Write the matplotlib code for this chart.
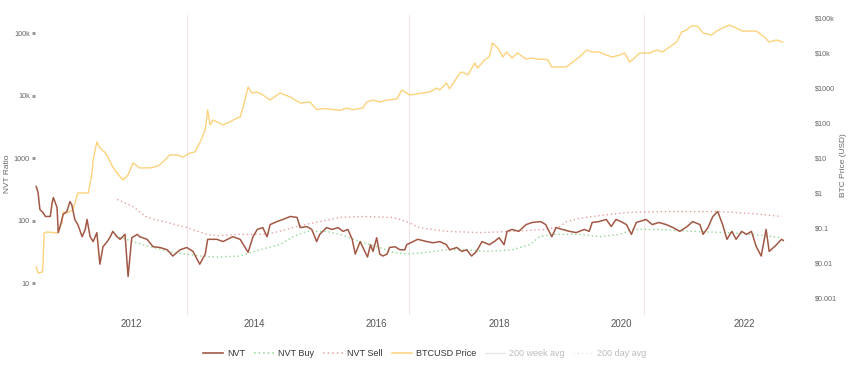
import matplotlib.pyplot as plt
from matplotlib.lines import Line2D

plt.rcParams['font.family'] = ['Liberation Sans', 'DejaVu Sans']

# NVT ratio (left axis), decimal years
nvt_t = [2010.44, 2010.47, 2010.50, 2010.55, 2010.59, 2010.67, 2010.70, 2010.72, 2010.78, 2010.80,
         2010.83, 2010.88, 2010.94, 2010.99, 2011.02, 2011.07, 2011.12, 2011.19, 2011.24, 2011.27,
         2011.32, 2011.37, 2011.43, 2011.48, 2011.53, 2011.60, 2011.65, 2011.69, 2011.76, 2011.81,
         2011.89, 2011.94, 2012.00, 2012.09, 2012.13, 2012.25, 2012.35, 2012.46, 2012.58, 2012.67,
         2012.79, 2012.90, 2013.00, 2013.11, 2013.20, 2013.24, 2013.39, 2013.49, 2013.65, 2013.77,
         2013.90, 2013.98, 2014.05, 2014.14, 2014.21, 2014.26, 2014.37, 2014.47, 2014.59, 2014.70,
         2014.75, 2014.86, 2014.94, 2015.02, 2015.07, 2015.18, 2015.27, 2015.37, 2015.45, 2015.53,
         2015.60, 2015.65, 2015.73, 2015.85, 2015.90, 2015.94, 2016.00, 2016.05, 2016.10, 2016.17,
         2016.21, 2016.30, 2016.38, 2016.46, 2016.49, 2016.67, 2016.82, 2016.92, 2017.03, 2017.14,
         2017.19, 2017.31, 2017.39, 2017.47, 2017.55, 2017.63, 2017.72, 2017.84, 2017.92, 2018.00,
         2018.08, 2018.13, 2018.21, 2018.32, 2018.44, 2018.54, 2018.68, 2018.76, 2018.86, 2018.93,
         2019.03, 2019.15, 2019.26, 2019.39, 2019.47, 2019.52, 2019.63, 2019.75, 2019.83, 2019.91,
         2019.99, 2020.08, 2020.16, 2020.24, 2020.40, 2020.50, 2020.61, 2020.73, 2020.84, 2020.95,
         2021.07, 2021.16, 2021.28, 2021.33, 2021.41, 2021.49, 2021.57, 2021.65, 2021.72, 2021.80,
         2021.87, 2021.96, 2022.04, 2022.12, 2022.20, 2022.28, 2022.36, 2022.41, 2022.53, 2022.61,
         2022.64]
nvt = [350, 281, 150, 134, 116, 116, 194, 233, 161, 64,
       80, 125, 139, 201, 180, 104, 86, 55, 72, 104,
       55, 46, 64, 20, 38, 46, 55, 67, 55, 50,
       60, 12.7, 53, 60, 55, 50, 38, 37, 34, 27,
       34, 37, 32, 20, 29, 50, 50, 46, 55, 50,
       31, 55, 72, 77, 55, 86, 96, 104, 116, 112,
       77, 80, 72, 46, 60, 77, 72, 77, 67, 72,
       50, 29, 46, 26, 41, 32, 53, 29, 27, 29,
       37, 38, 34, 34, 41, 50, 46, 44, 46, 41,
       34, 37, 32, 34, 27, 32, 46, 41, 46, 53,
       41, 67, 72, 67, 86, 93, 96, 86, 55, 77,
       72, 67, 64, 72, 67, 93, 96, 104, 80, 104,
       96, 86, 60, 93, 104, 86, 93, 86, 77, 67,
       80, 96, 86, 60, 77, 116, 139, 86, 50, 67,
       50, 67, 60, 67, 38, 27, 72, 32, 41, 50,
       48]

buy_t = [2011.73, 2012.18, 2012.67, 2013.11, 2013.39, 2013.77, 2014.09, 2014.42, 2014.63, 2014.86,
         2015.18, 2015.40, 2015.73, 2016.05, 2016.26, 2016.49, 2016.82, 2017.14, 2017.47, 2017.80,
         2018.21, 2018.50, 2018.66, 2018.86, 2019.31, 2019.64, 2019.97, 2020.18, 2020.61, 2021.16,
         2021.72, 2022.14, 2022.61]
buy = [57, 41, 31, 27, 26, 27, 34, 41, 55, 67,
       67, 60, 46, 37, 31, 29, 31, 34, 34, 32,
       34, 41, 55, 60, 60, 55, 60, 72, 72, 67,
       64, 60, 53]

sell_t = [2011.76, 2012.02, 2012.25, 2012.58, 2012.90, 2013.23, 2013.39, 2013.77, 2014.21, 2014.53,
          2014.75, 2015.07, 2015.40, 2015.73, 2016.26, 2016.49, 2016.70, 2017.14, 2017.68, 2018.21,
          2018.77, 2018.99, 2019.10, 2019.31, 2019.52, 2020.08, 2020.61, 2021.16, 2021.60, 2022.14,
          2022.61]
sell = [217, 167, 112, 93, 77, 60, 57, 60, 60, 72,
        83, 96, 112, 116, 112, 96, 77, 67, 64, 67,
        72, 80, 96, 108, 116, 134, 139, 139, 139, 129,
        116]

# BTC price in USD (right axis)
btc_t = [2010.44, 2010.47, 2010.54, 2010.55, 2010.57, 2010.62, 2010.78, 2010.80, 2010.86, 2010.88,
         2010.94, 2011.04, 2011.12, 2011.29, 2011.35, 2011.37, 2011.43, 2011.48, 2011.56, 2011.61,
         2011.69, 2011.81, 2011.86, 2011.94, 2012.02, 2012.13, 2012.30, 2012.43, 2012.51, 2012.62,
         2012.74, 2012.84, 2012.95, 2013.03, 2013.11, 2013.20, 2013.24, 2013.28, 2013.33, 2013.49,
         2013.60, 2013.72, 2013.77, 2013.82, 2013.90, 2013.96, 2014.05, 2014.14, 2014.26, 2014.42,
         2014.59, 2014.75, 2014.91, 2015.02, 2015.12, 2015.23, 2015.40, 2015.51, 2015.61, 2015.77,
         2015.84, 2015.94, 2016.05, 2016.18, 2016.33, 2016.41, 2016.54, 2016.75, 2016.87, 2016.98,
         2017.03, 2017.14, 2017.19, 2017.36, 2017.40, 2017.49, 2017.60, 2017.65, 2017.76, 2017.84,
         2017.89, 2017.98, 2018.06, 2018.12, 2018.21, 2018.30, 2018.44, 2018.53, 2018.61, 2018.79,
         2018.86, 2018.99, 2019.10, 2019.20, 2019.31, 2019.43, 2019.52, 2019.63, 2019.75, 2019.85,
         2019.97, 2020.05, 2020.13, 2020.21, 2020.29, 2020.46, 2020.57, 2020.67, 2020.78, 2020.90,
         2020.98, 2021.06, 2021.14, 2021.24, 2021.33, 2021.47, 2021.55, 2021.65, 2021.76, 2021.87,
         2021.97, 2022.09, 2022.20, 2022.33, 2022.41, 2022.53, 2022.63]
btc = [0.0077, 0.0052, 0.0055, 0.0088, 0.072, 0.077, 0.072, 0.088, 0.139, 0.29,
       0.27, 0.33, 1.0, 1.0, 3.7, 8.8, 28.7, 19.3, 14.8, 10.7,
       5.5, 2.9, 2.35, 3.3, 7.2, 5.2, 5.2, 5.9, 7.7, 12.2,
       12.2, 10.7, 13.9, 14.8, 26.8, 63, 235, 88, 122, 88,
       107, 139, 148, 287, 1068, 720, 769, 631, 454, 720,
       553, 373, 398, 240, 260, 250, 230, 268, 240, 268,
       398, 454, 398, 454, 485, 877, 630, 720, 770, 1000,
       877, 1389, 950, 2680, 2865, 2350, 5180, 3730, 6310, 7690,
       19300, 13900, 7690, 10680, 7200, 10000, 6740, 7200, 6740, 6500,
       3980, 3980, 3980, 5530, 7690, 12200, 10680, 10680, 8770, 7690,
       8770, 10000, 5530, 7200, 10000, 10000, 12200, 10680, 14800, 20600,
       39800, 45400, 59100, 59100, 37300, 32700, 42500, 51800, 63100, 51800,
       42500, 42500, 42500, 28700, 20600, 23500, 20600]

halvings = [2012.91, 2016.52, 2020.36]
years = [2012, 2014, 2016, 2018, 2020, 2022]
left_ticks = [10, 100, 1000, 1e4, 1e5]
left_labels = ['10', '100', '1000', '10k', '100k']
right_ticks = [0.001, 0.01, 0.1, 1, 10, 100, 1000, 1e4, 1e5]
right_labels = ['$0.001', '$0.01', '$0.1', '$1', '$10', '$100', '$1000', '$10k', '$100k']

fig = plt.figure(figsize=(8.5, 3.73), dpi=100)
ax = fig.add_axes([35 / 850, 1 - 315 / 373, 755 / 850, 300 / 373])
ax2 = ax.twinx()

for h in halvings:
    ax2.axvline(h, color='#f5e2e2', lw=0.7, zorder=0)
ax2.plot(btc_t, btc, color='#fcd27c', lw=1.0)

ax.plot(buy_t, buy, color='#8fd88f', lw=1.0, ls=(0, (1, 2)))
ax.plot(sell_t, sell, color='#e6a0a0', lw=1.0, ls=(0, (1, 2)))
ax.plot(nvt_t, nvt, color='#a25844', lw=1.1)
ax.set_zorder(ax2.get_zorder() + 1)
ax.patch.set_visible(False)

ax.set_yscale('log')
ax2.set_yscale('log')
ax.set_ylim(10 ** 0.488, 10 ** 5.288)
ax2.set_ylim(10 ** -3.486, 10 ** 5.086)
ax.set_xlim(2010.42, 2022.75)

ax.set_yticks(left_ticks)
ax.set_yticklabels(left_labels)
ax.minorticks_off()
ax.tick_params(axis='y', length=2.2, width=2.2, color='#9a9a9a', pad=1.5,
               labelsize=5.2, labelcolor='#666666')
ax2.set_yticks(right_ticks)
ax2.set_yticklabels(right_labels)
ax2.minorticks_off()
ax2.tick_params(axis='y', length=0, pad=18, labelsize=5.2, labelcolor='#666666')

ax.set_xticks(years)
ax.set_xticklabels([str(y) for y in years])
ax.tick_params(axis='x', length=0, pad=3, labelsize=7, labelcolor='#555555')

for a in (ax, ax2):
    for s in a.spines.values():
        s.set_visible(False)

ax.set_ylabel('NVT Ratio', fontsize=6, color='#666666')
ax2.set_ylabel('BTC Price (USD)', fontsize=6, color='#666666')
ax.yaxis.set_label_coords(-24 / 755, 0.47)
ax2.yaxis.set_label_coords(1 + 50 / 755, 0.5)

handles = [
    Line2D([], [], color='#a25844', lw=1.2),
    Line2D([], [], color='#8fd88f', lw=1.1, ls=(0, (1, 2))),
    Line2D([], [], color='#e6a0a0', lw=1.1, ls=(0, (1, 2))),
    Line2D([], [], color='#fcd27c', lw=1.1),
    Line2D([], [], color='#e8e8e8', lw=1.0),
    Line2D([], [], color='#e8e8e8', lw=1.0, ls=(0, (1, 2))),
]
labels = ['NVT', 'NVT Buy', 'NVT Sell', 'BTCUSD Price', '200 week avg', '200 day avg']
leg = fig.legend(handles, labels, loc='center', bbox_to_anchor=(425 / 850, 1 - 354 / 373),
                 ncol=6, frameon=False, fontsize=6.5, handlelength=2.2,
                 handletextpad=0.45, columnspacing=1.0)
for i, txt in enumerate(leg.get_texts()):
    txt.set_color('#333333' if i < 4 else '#bbbbbb')

fig.savefig('out.png', dpi=100)
